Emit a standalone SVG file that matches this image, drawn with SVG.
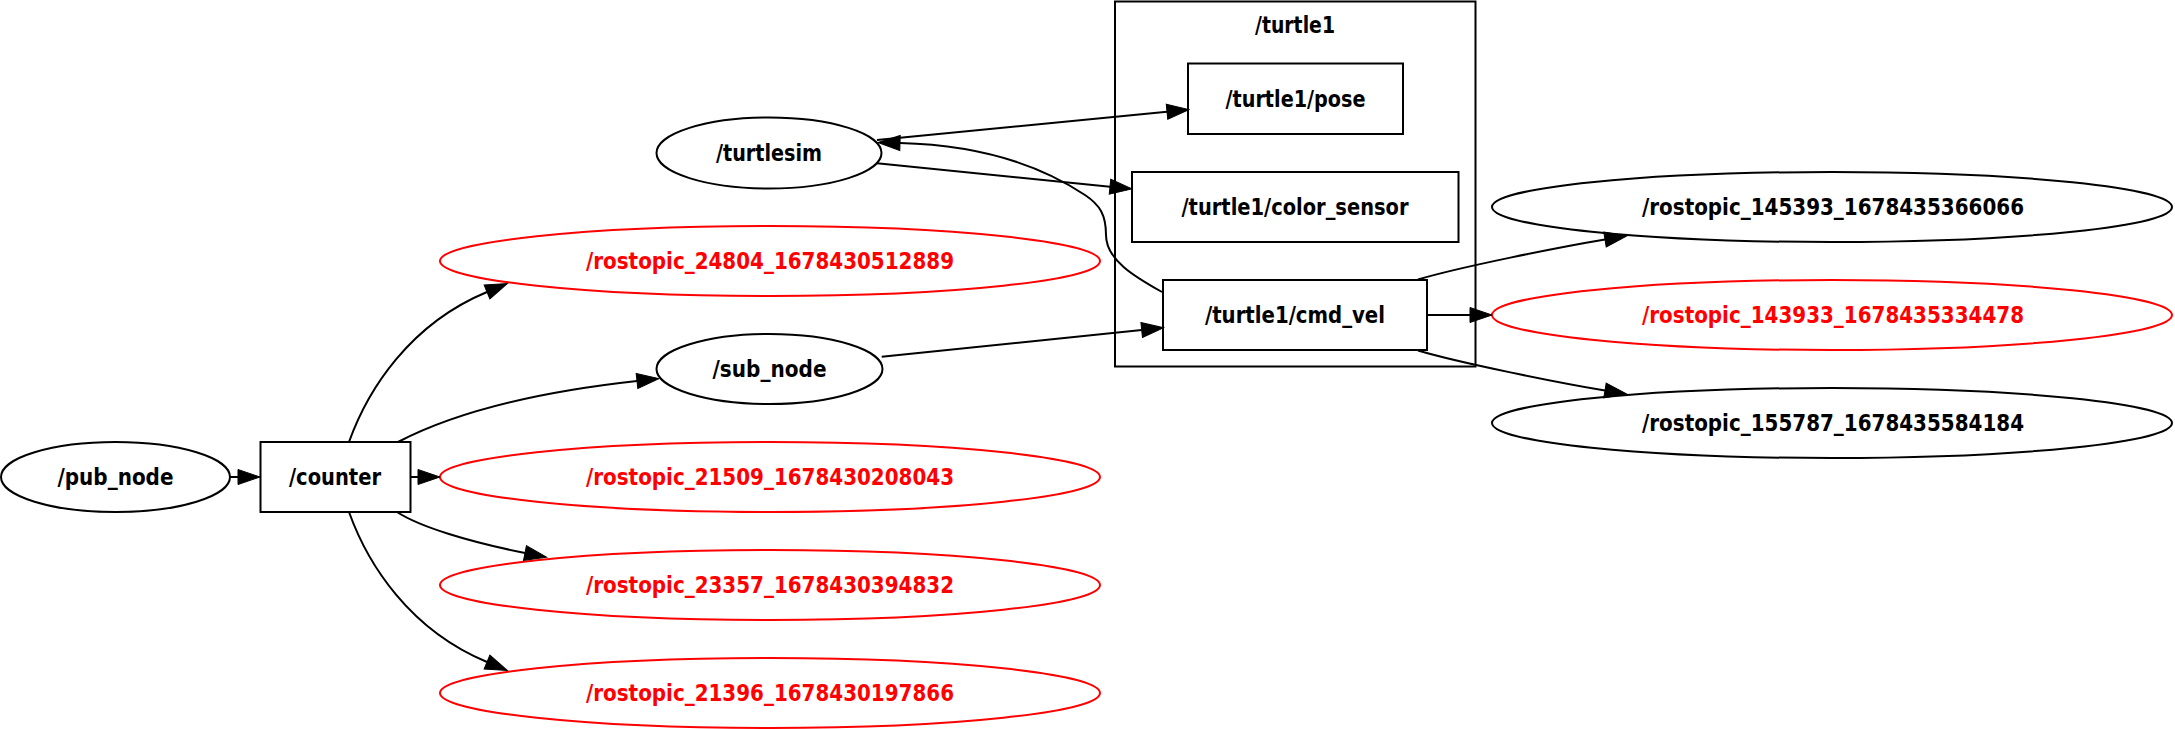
<svg xmlns="http://www.w3.org/2000/svg" width="2175" height="729" viewBox="0 0 2175 729">
  <style>
    .shape { fill: none; stroke: #000; stroke-width: 2; }
    .topic { fill: none; stroke: #ff0000; stroke-width: 2; }
    .edge { fill: none; stroke: #000; stroke-width: 2; marker-end: url(#arrow); }
    text { font-family: "DejaVu Sans", "Liberation Sans", sans-serif; font-weight: bold; font-size: 23px; text-anchor: middle; fill: #000; }
    text.red { fill: #ff0000; }
  </style>
  <defs>
    <marker id="arrow" markerUnits="userSpaceOnUse" markerWidth="23" markerHeight="16" refX="0" refY="7.5" orient="auto" overflow="visible">
      <path d="M0,0 L22,7.5 L0,15 Z" fill="#000" stroke="#000" stroke-width="1"/>
    </marker>
  </defs>
  <rect width="2175" height="729" fill="#fff"/>

  <!-- namespace cluster -->
  <g id="cluster_turtle1">
    <rect class="shape" x="1115" y="1.5" width="360.5" height="365"/>
    <text x="1295" y="33" textLength="80" lengthAdjust="spacingAndGlyphs">/turtle1</text>
  </g>

  <!-- nodes -->
  <g id="node_pub_node">
    <ellipse class="shape" cx="115.5" cy="477" rx="114.5" ry="35"/>
    <text x="115.5" y="485" textLength="116" lengthAdjust="spacingAndGlyphs">/pub_node</text>
  </g>
  <g id="node_counter">
    <rect class="shape" x="260.5" y="442" width="150" height="70"/>
    <text x="335" y="485" textLength="92" lengthAdjust="spacingAndGlyphs">/counter</text>
  </g>
  <g id="node_turtlesim">
    <ellipse class="shape" cx="769" cy="153" rx="112.5" ry="35.5"/>
    <text x="769" y="161" textLength="106" lengthAdjust="spacingAndGlyphs">/turtlesim</text>
  </g>
  <g id="node_sub_node">
    <ellipse class="shape" cx="769.5" cy="369" rx="113" ry="35"/>
    <text x="769.5" y="377" textLength="114" lengthAdjust="spacingAndGlyphs">/sub_node</text>
  </g>
  <g id="node_rostopic_24804">
    <ellipse class="topic" cx="770" cy="261" rx="330" ry="35"/>
    <text class="red" x="770" y="269" textLength="368" lengthAdjust="spacingAndGlyphs">/rostopic_24804_1678430512889</text>
  </g>
  <g id="node_rostopic_21509">
    <ellipse class="topic" cx="770" cy="477" rx="330" ry="35"/>
    <text class="red" x="770" y="485" textLength="368" lengthAdjust="spacingAndGlyphs">/rostopic_21509_1678430208043</text>
  </g>
  <g id="node_rostopic_23357">
    <ellipse class="topic" cx="770" cy="585" rx="330" ry="35"/>
    <text class="red" x="770" y="593" textLength="368" lengthAdjust="spacingAndGlyphs">/rostopic_23357_1678430394832</text>
  </g>
  <g id="node_rostopic_21396">
    <ellipse class="topic" cx="770" cy="693" rx="330" ry="35"/>
    <text class="red" x="770" y="701" textLength="368" lengthAdjust="spacingAndGlyphs">/rostopic_21396_1678430197866</text>
  </g>
  <g id="topic_turtle1_pose">
    <rect class="shape" x="1188" y="63.5" width="215" height="70.5"/>
    <text x="1295.5" y="107" textLength="140" lengthAdjust="spacingAndGlyphs">/turtle1/pose</text>
  </g>
  <g id="topic_turtle1_color_sensor">
    <rect class="shape" x="1132" y="172" width="326.5" height="70"/>
    <text x="1295" y="215" textLength="227" lengthAdjust="spacingAndGlyphs">/turtle1/color_sensor</text>
  </g>
  <g id="topic_turtle1_cmd_vel">
    <rect class="shape" x="1163" y="280" width="264" height="70"/>
    <text x="1295" y="323" textLength="180" lengthAdjust="spacingAndGlyphs">/turtle1/cmd_vel</text>
  </g>
  <g id="node_rostopic_145393">
    <ellipse class="shape" cx="1832" cy="207" rx="340" ry="35"/>
    <text x="1833" y="215" textLength="382" lengthAdjust="spacingAndGlyphs">/rostopic_145393_1678435366066</text>
  </g>
  <g id="node_rostopic_143933">
    <ellipse class="topic" cx="1832" cy="315" rx="340" ry="35"/>
    <text class="red" x="1833" y="323" textLength="382" lengthAdjust="spacingAndGlyphs">/rostopic_143933_1678435334478</text>
  </g>
  <g id="node_rostopic_155787">
    <ellipse class="shape" cx="1832" cy="423" rx="340" ry="35"/>
    <text x="1833" y="431" textLength="382" lengthAdjust="spacingAndGlyphs">/rostopic_155787_1678435584184</text>
  </g>

  <!-- connectors -->
  <g id="edges">
    <path class="edge" d="M230,477 L238,477"/>
    <path class="edge" d="M410.5,477 L418,477"/>
    <path class="edge" d="M349,442 C368,389 410,324 487,292"/>
    <path class="edge" d="M398,442 C440,420 510,395 637,381"/>
    <path class="edge" d="M397,512 C420,527 470,542 525,553"/>
    <path class="edge" d="M349,512 C368,565 410,630 487,662"/>
    <path class="edge" d="M877,140 L1167,111.7"/>
    <path class="edge" d="M877,163.3 L1110,186.7"/>
    <path class="edge" d="M1162,292 C1135,277 1106,260 1106,235 C1106,215 1100,205 1085,195 C1040,165 980,145 900,143"/>
    <path class="edge" d="M881.7,356.7 L1141.7,330"/>
    <path class="edge" d="M1418,279.5 C1460,267 1560,247 1605,239.5"/>
    <path class="edge" d="M1427,315 L1470,315"/>
    <path class="edge" d="M1418,350.5 C1460,363 1560,383 1605,390.5"/>
  </g>
</svg>
